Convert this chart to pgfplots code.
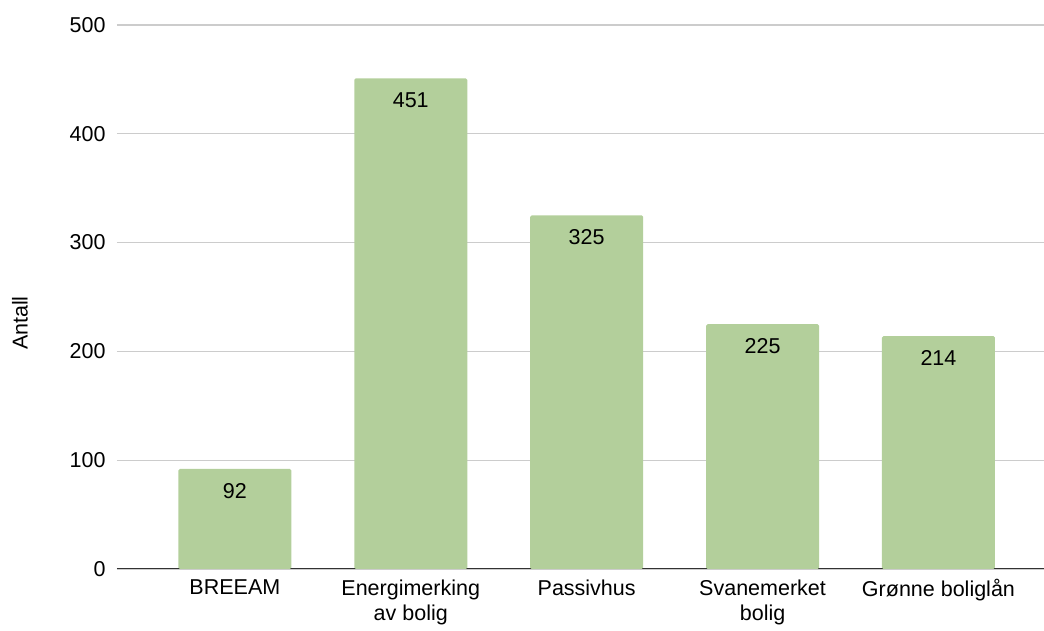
\documentclass[border=0pt]{standalone}
\usepackage{fontspec}
\setmainfont{Liberation Sans}
\usepackage{pgfplots}
\pgfplotsset{compat=1.18}
\definecolor{barg}{HTML}{B3CF9B}
\definecolor{gridc}{HTML}{CCCCCC}
\definecolor{axc}{HTML}{333333}
\begin{document}
\begin{tikzpicture}
\begin{axis}[
  scale only axis,
  width=927pt, height=544pt,
  xmin=-0.67, xmax=4.6,
  ymin=0, ymax=500,
  ytick={0,100,200,300,400,500},
  xtick=data,
  xticklabels={BREEAM,{Energimerking\\av bolig},Passivhus,{Svanemerket\\bolig},Grønne boliglån},
  xticklabel style={align=center, font=\fontsize{21.5}{25}\selectfont, text=black, yshift=-7pt},
  yticklabel style={font=\fontsize{21.5}{25}\selectfont, text=black, xshift=-8pt},
  /pgf/number format/assume math mode=true,
  axis x line*=bottom,
  axis y line*=left,
  x axis line style={draw=axc, line width=1pt},
  y axis line style={draw=none},
  ymajorgrids,
  grid style={draw=gridc, line width=1.2pt},
  major tick length=0pt,
  tick style={draw=none},
  ylabel={Antall},
  ylabel style={at={(axis description cs:-0.1046,0.452)}, anchor=center, font=\fontsize{21.5}{25}\selectfont},
  ybar, bar width=113pt,
  nodes near coords,
  every node near coord/.append style={anchor=north, yshift=-14pt, inner sep=0pt, font=\fontsize{21.5}{25}\selectfont, text=black},
  clip=false,
]
\addplot[fill=barg, draw=none, rounded corners=1.5pt] coordinates {(0,92) (1,451) (2,325) (3,225) (4,214)};
\coordinate (sw) at (rel axis cs:0,0);
\end{axis}
\pgfresetboundingbox
\path (sw) ++(-117pt,-62pt) rectangle ++(1044pt,631pt);
\end{tikzpicture}
\end{document}
